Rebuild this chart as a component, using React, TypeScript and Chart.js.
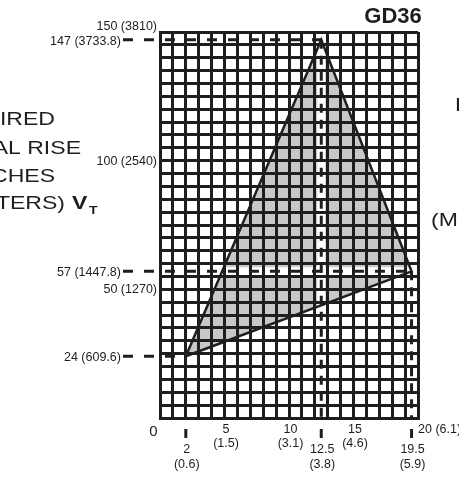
import React, { useEffect, useRef } from "react";
import { Chart, registerables } from "chart.js";

Chart.register(...registerables);

const chartTitle = "GD36";
const vertexRun = [2, 12.5, 19.5];
const vertexRise = [24, 147, 57];
const vertexRunLabels = ["2", "12.5", "19.5"];
const vertexRunMetric = ["(0.6)", "(3.8)", "(5.9)"];
const vertexRiseLabels = ["24 (609.6)", "147 (3733.8)", "57 (1447.8)"];
const xTickValues = [5, 10, 15];
const xTickLabels = ["5", "10", "15"];
const xTickMetric = ["(1.5)", "(3.1)", "(4.6)"];
const yTickValues = [150, 100, 50];
const yTickLabels = ["150 (3810)", "100 (2540)", "50 (1270)"];
const xMin = 0;
const xMax = 20;
const yMin = 0;
const yMax = 150;
const xEndLabel = "20 (6.1)";
const leaderStart = -2.87;
const leftTitle = ["REQUIRED", "VERTICAL RISE", "IN INCHES", "(MILLIMETERS)"];
const rightTitle = ["REQUIRED", "(METERS) H"];

const FONT = "'Liberation Sans', Arial, Helvetica, sans-serif";
const INK = "#1e1e1e";
const STRETCH = 1.28;

function stretchedText(ctx: any, text: string, x: number, y: number, align: "left" | "right") {
  ctx.save();
  ctx.translate(x, y);
  ctx.scale(STRETCH, 1);
  ctx.textAlign = align;
  ctx.fillText(text, 0, 0);
  ctx.restore();
}

const labelsPlugin = {
  id: "gdLabels",
  afterDraw(chart: any) {
    const { ctx, chartArea } = chart;
    const xs = chart.scales.x;
    const ys = chart.scales.y;
    const bottom = chartArea.bottom;
    ctx.save();
    ctx.fillStyle = INK;
    ctx.strokeStyle = INK;

    // y axis labels
    ctx.font = `12.5px ${FONT}`;
    ctx.textAlign = "right";
    ctx.textBaseline = "middle";
    yTickValues.forEach((v, i) => {
      const py = ys.getPixelForValue(v) + (v === yMax ? -5.5 : 0.5);
      ctx.fillText(yTickLabels[i], chartArea.left - 3, py);
    });
    const leaderPx = xs.getPixelForValue(leaderStart);
    vertexRise.forEach((v, i) => {
      const py = ys.getPixelForValue(v) + 1.5;
      ctx.fillText(vertexRiseLabels[i], leaderPx - 2, py);
    });

    // x axis labels
    ctx.textAlign = "center";
    ctx.textBaseline = "alphabetic";
    xTickValues.forEach((v, i) => {
      const px = xs.getPixelForValue(v) + 1.5;
      ctx.fillText(xTickLabels[i], px, bottom + 15);
      ctx.fillText(xTickMetric[i], px, bottom + 29);
    });
    vertexRun.forEach((v, i) => {
      const px = xs.getPixelForValue(v) + 1;
      ctx.fillText(vertexRunLabels[i], px, bottom + 35);
      ctx.fillText(vertexRunMetric[i], px, bottom + 50);
    });
    ctx.textAlign = "left";
    ctx.fillText(xEndLabel, chartArea.right, bottom + 15);
    ctx.font = `15px ${FONT}`;
    ctx.textAlign = "center";
    ctx.fillText(String(xMin), xs.getPixelForValue(xMin) - 6.5, bottom + 18);

    // tick marks under axis
    ctx.lineWidth = 3;
    vertexRun.forEach((v) => {
      const px = xs.getPixelForValue(v);
      ctx.beginPath();
      ctx.moveTo(px, bottom + 11);
      ctx.lineTo(px, bottom + 20);
      ctx.stroke();
    });

    // title
    ctx.font = `bold 22px ${FONT}`;
    ctx.textAlign = "center";
    ctx.fillText(chartTitle, chartArea.right - 25, 23);

    // left axis title (cut by page edge)
    ctx.font = `18px ${FONT}`;
    stretchedText(ctx, leftTitle[0], 55, 125, "right");
    stretchedText(ctx, leftTitle[1], 81, 154, "right");
    stretchedText(ctx, leftTitle[2], 55, 182, "right");
    stretchedText(ctx, leftTitle[3], 65, 209, "right");
    ctx.font = `bold 18px ${FONT}`;
    stretchedText(ctx, "V", 72, 209, "left");
    ctx.font = `bold 11px ${FONT}`;
    stretchedText(ctx, "T", 89, 214, "left");

    // right axis title (cut by page edge)
    ctx.font = `18px ${FONT}`;
    stretchedText(ctx, rightTitle[0], 455, 111, "left");
    stretchedText(ctx, rightTitle[1], 431, 226, "left");
    ctx.restore();
  },
};

export default function App() {
  const ref = useRef<HTMLCanvasElement | null>(null);
  useEffect(() => {
    if (!ref.current) return;
    const pts = vertexRun.map((x, i) => ({ x, y: vertexRise[i] }));
    const closed = [...pts, pts[0]];
    const hLeaders = vertexRun.map((x, i) => [
      { x: leaderStart, y: vertexRise[i] },
      { x, y: vertexRise[i] },
    ]);
    const hUnder = vertexRun.map((x, i) => [
      { x: xMin, y: vertexRise[i] },
      { x, y: vertexRise[i] },
    ]);
    const vIdx = [1, 2];
    const vLeaders = vIdx.map((i) => [
      { x: vertexRun[i], y: vertexRise[i] },
      { x: vertexRun[i], y: yMin },
    ]);
    const base = { showLine: true, pointRadius: 0, pointHoverRadius: 0 };
    const datasets: any[] = [];
    datasets.push({
      ...base,
      data: closed,
      fill: "shape",
      backgroundColor: "#c8c8c8",
      borderWidth: 0,
      borderColor: "rgba(0,0,0,0)",
      order: 10,
    });
    hUnder.forEach((d) =>
      datasets.push({ ...base, data: d, borderColor: "#ffffff", borderWidth: 8, fill: false, order: 8 })
    );
    vLeaders.forEach((d) =>
      datasets.push({ ...base, data: d, borderColor: "#ffffff", borderWidth: 8, fill: false, order: 8 })
    );
    hLeaders.forEach((d) =>
      datasets.push({
        ...base,
        data: d,
        borderColor: INK,
        borderWidth: 3,
        borderDash: [10, 11],
        borderCapStyle: "butt",
        fill: false,
        clip: false,
        order: 6,
      })
    );
    vLeaders.forEach((d) =>
      datasets.push({
        ...base,
        data: d,
        borderColor: INK,
        borderWidth: 3,
        borderDash: [9, 7],
        fill: false,
        order: 6,
      })
    );
    datasets.push({
      ...base,
      data: closed,
      fill: false,
      borderColor: INK,
      borderWidth: 2.5,
      borderJoinStyle: "miter",
      order: 4,
    });

    const chart = new Chart(ref.current, {
      type: "scatter",
      data: { datasets },
      options: {
        animation: false,
        responsive: false,
        devicePixelRatio: 1,
        layout: { padding: { left: 160, right: 41, top: 32, bottom: 63 } },
        plugins: { legend: { display: false }, tooltip: { enabled: false } },
        scales: {
          x: {
            type: "linear",
            min: xMin,
            max: xMax,
            ticks: { display: false, stepSize: 1 },
            grid: { color: INK, lineWidth: 3, drawTicks: false, z: 1 },
            border: { color: INK, width: 3, z: 1 },
          },
          y: {
            type: "linear",
            min: yMin,
            max: yMax,
            ticks: { display: false, stepSize: 5 },
            grid: { color: INK, lineWidth: 3, drawTicks: false, z: 1 },
            border: { color: INK, width: 3, z: 1 },
          },
        },
      },
      plugins: [labelsPlugin],
    } as any);
    return () => chart.destroy();
  }, []);
  return (
    <div style={{ position: "absolute", left: 0, top: 0, width: 459, height: 481, background: "#fff" }}>
      <canvas ref={ref} width={459} height={481} style={{ display: "block", width: 459, height: 481 }} />
    </div>
  );
}
